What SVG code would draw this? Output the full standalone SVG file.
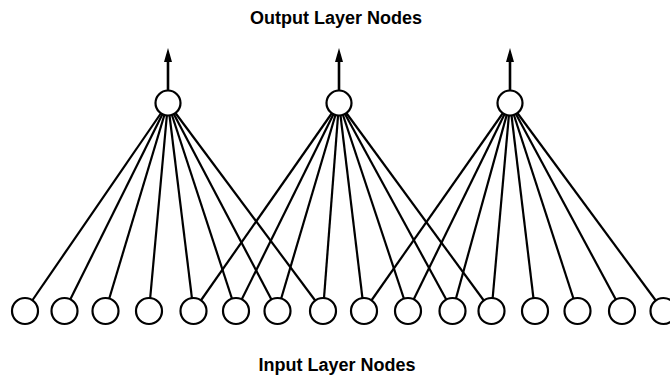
<svg xmlns="http://www.w3.org/2000/svg" width="670" height="377" viewBox="0 0 670 377">
  <style>
    .edge { stroke: #000; stroke-width: 2.2; fill: none; }
    .node { fill: #fff; stroke: #000; stroke-width: 2.2; }
    .out { stroke: #000; stroke-width: 2.6; }
    .label { font-family: "Liberation Sans", Arial, sans-serif; font-weight: bold; font-size: 18px; text-anchor: middle; fill: #000; }
  </style>
  <defs>
    <!-- long narrow filled arrowhead; tip sits 6px beyond the shaft end -->
    <marker id="head" viewBox="0 0 14 8" refX="8" refY="4" markerWidth="14" markerHeight="8" markerUnits="userSpaceOnUse" orient="auto">
      <path d="M0,0 L14,4 L0,8 Z" fill="#000"/>
    </marker>
  </defs>
  <rect width="670" height="377" fill="#fff"/>

  <text class="label" x="336" y="24">Output Layer Nodes</text>
  <text class="label" x="337" y="371">Input Layer Nodes</text>

  <!-- connections: each output node receives 8 consecutive inputs -->
  <g id="connectors">
    <!-- output 1 -> inputs 1..8 -->
    <line class="edge" x1="168" y1="103" x2="25" y2="311"/>
    <line class="edge" x1="168" y1="103" x2="64.5" y2="311"/>
    <line class="edge" x1="168" y1="103" x2="105.5" y2="311"/>
    <line class="edge" x1="168" y1="103" x2="149" y2="311"/>
    <line class="edge" x1="168" y1="103" x2="193.5" y2="311"/>
    <line class="edge" x1="168" y1="103" x2="236" y2="311"/>
    <line class="edge" x1="168" y1="103" x2="277.5" y2="311"/>
    <line class="edge" x1="168" y1="103" x2="323" y2="311"/>
    <!-- output 2 -> inputs 5..12 -->
    <line class="edge" x1="339" y1="103" x2="193.5" y2="311"/>
    <line class="edge" x1="339" y1="103" x2="236" y2="311"/>
    <line class="edge" x1="339" y1="103" x2="277.5" y2="311"/>
    <line class="edge" x1="339" y1="103" x2="323" y2="311"/>
    <line class="edge" x1="339" y1="103" x2="364" y2="311"/>
    <line class="edge" x1="339" y1="103" x2="408" y2="311"/>
    <line class="edge" x1="339" y1="103" x2="452.5" y2="311"/>
    <line class="edge" x1="339" y1="103" x2="491.5" y2="311"/>
    <!-- output 3 -> inputs 9..16 -->
    <line class="edge" x1="510" y1="103" x2="364" y2="311"/>
    <line class="edge" x1="510" y1="103" x2="408" y2="311"/>
    <line class="edge" x1="510" y1="103" x2="452.5" y2="311"/>
    <line class="edge" x1="510" y1="103" x2="491.5" y2="311"/>
    <line class="edge" x1="510" y1="103" x2="535" y2="311"/>
    <line class="edge" x1="510" y1="103" x2="577.5" y2="311"/>
    <line class="edge" x1="510" y1="103" x2="622" y2="311"/>
    <line class="edge" x1="510" y1="103" x2="663.5" y2="311"/>
    <!-- outgoing arrows -->
    <line class="out" x1="168" y1="90" x2="168" y2="54" marker-end="url(#head)"/>
    <line class="out" x1="339" y1="90" x2="339" y2="54" marker-end="url(#head)"/>
    <line class="out" x1="510" y1="90" x2="510" y2="54" marker-end="url(#head)"/>
  </g>

  <g id="out1"><circle class="node" cx="168" cy="103" r="12.5"/></g>
  <g id="out2"><circle class="node" cx="339" cy="103" r="12.5"/></g>
  <g id="out3"><circle class="node" cx="510" cy="103" r="12.5"/></g>

  <g id="in1"><circle class="node" cx="25" cy="311" r="13"/></g>
  <g id="in2"><circle class="node" cx="64.5" cy="311" r="13"/></g>
  <g id="in3"><circle class="node" cx="105.5" cy="311" r="13"/></g>
  <g id="in4"><circle class="node" cx="149" cy="311" r="13"/></g>
  <g id="in5"><circle class="node" cx="193.5" cy="311" r="13"/></g>
  <g id="in6"><circle class="node" cx="236" cy="311" r="13"/></g>
  <g id="in7"><circle class="node" cx="277.5" cy="311" r="13"/></g>
  <g id="in8"><circle class="node" cx="323" cy="311" r="13"/></g>
  <g id="in9"><circle class="node" cx="364" cy="311" r="13"/></g>
  <g id="in10"><circle class="node" cx="408" cy="311" r="13"/></g>
  <g id="in11"><circle class="node" cx="452.5" cy="311" r="13"/></g>
  <g id="in12"><circle class="node" cx="491.5" cy="311" r="13"/></g>
  <g id="in13"><circle class="node" cx="535" cy="311" r="13"/></g>
  <g id="in14"><circle class="node" cx="577.5" cy="311" r="13"/></g>
  <g id="in15"><circle class="node" cx="622" cy="311" r="13"/></g>
  <g id="in16"><circle class="node" cx="663.5" cy="311" r="13"/></g>
</svg>
